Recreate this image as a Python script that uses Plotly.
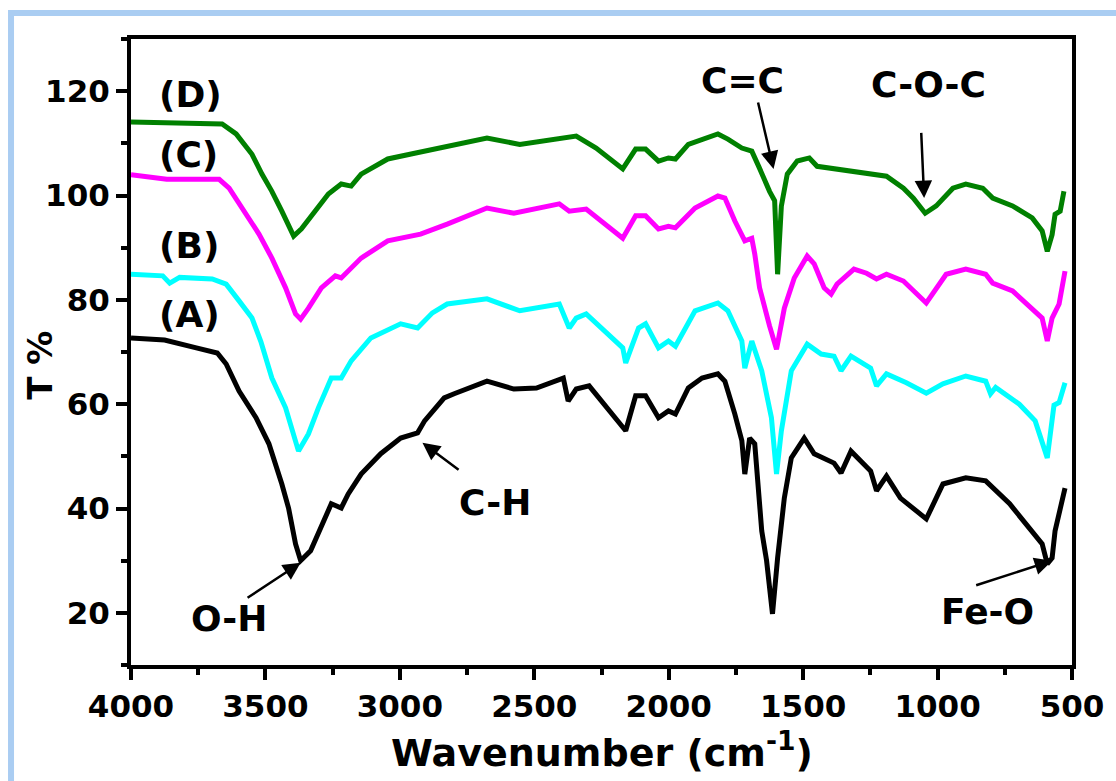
import plotly.graph_objects as go

# FTIR transmittance spectra (wavenumber in cm^-1, transmittance in %)
wn_a = [4000, 3875, 3757, 3679, 3646, 3598, 3535, 3487, 3439, 3414, 3388, 3369, 3332, 3292,
        3255, 3218, 3192, 3144, 3071, 2997, 2934, 2908, 2835, 2798, 2676, 2576, 2492, 2392,
        2374, 2344, 2296, 2160, 2123, 2086, 2038, 2001, 1975, 1927, 1876, 1817, 1791, 1754,
        1728, 1717, 1699, 1680, 1654, 1636, 1614, 1595, 1570, 1544, 1496, 1459, 1385, 1359,
        1322, 1249, 1227, 1190, 1138, 1042, 980, 895, 821, 732, 659, 611, 592, 574, 563, 526]
t_a = [72.7, 72.3, 70.8, 69.8, 67.7, 62.5, 57.4, 52.4, 44.7, 40.1, 33.2, 30.0, 31.9, 36.3,
       40.9, 40.1, 42.8, 46.6, 50.5, 53.5, 54.5, 56.8, 61.2, 62.0, 64.4, 62.9, 63.1, 65.0,
       60.6, 62.9, 63.5, 54.9, 61.6, 61.6, 57.4, 58.7, 58.1, 63.1, 65.0, 65.8, 64.4, 58.1,
       53.0, 46.6, 53.5, 52.4, 35.7, 30.0, 19.8, 30.5, 42.0, 49.7, 53.5, 50.5, 48.7, 46.8,
       51.0, 47.2, 43.4, 46.2, 42.0, 38.0, 44.7, 45.9, 45.3, 40.9, 36.3, 33.2, 29.4, 30.5, 35.7, 43.9]

wn_b = [4000, 3882, 3856, 3819, 3698, 3646, 3598, 3550, 3517, 3476, 3425, 3403, 3377, 3340,
        3303, 3255, 3218, 3181, 3108, 2997, 2934, 2879, 2824, 2676, 2554, 2407, 2370, 2344,
        2307, 2171, 2160, 2112, 2086, 2038, 2001, 1975, 1902, 1817, 1780, 1728, 1717, 1691,
        1654, 1618, 1599, 1581, 1544, 1485, 1433, 1385, 1359, 1322, 1249, 1227, 1190, 1116,
        1042, 980, 895, 821, 803, 784, 696, 637, 592, 567, 548, 526]
t_b = [84.9, 84.6, 83.2, 84.3, 84.0, 83.0, 79.8, 76.5, 72.0, 65.0, 59.3, 55.4, 51.0, 54.3,
       59.3, 65.0, 65.0, 68.3, 72.7, 75.4, 74.6, 77.5, 79.2, 80.2, 77.9, 79.2, 74.6, 76.5,
       77.3, 70.8, 67.9, 74.6, 75.4, 70.8, 72.1, 71.1, 77.9, 79.4, 77.9, 72.1, 66.9, 72.1,
       66.4, 57.4, 46.6, 54.9, 66.4, 71.5, 69.6, 69.2, 66.4, 69.2, 66.9, 63.5, 65.8, 64.1,
       62.1, 63.9, 65.4, 64.4, 62.0, 63.2, 60.0, 56.8, 49.7, 59.8, 60.3, 64.1]

wn_c = [4000, 3867, 3771, 3672, 3635, 3587, 3524, 3476, 3425, 3388, 3369, 3340, 3292, 3240,
        3218, 3144, 3045, 2923, 2824, 2676, 2576, 2407, 2370, 2307, 2171, 2123, 2086, 2038,
        2001, 1975, 1902, 1817, 1791, 1754, 1717, 1691, 1680, 1662, 1651, 1625, 1599, 1570,
        1533, 1485, 1459, 1422, 1396, 1374, 1311, 1264, 1227, 1190, 1127, 1042, 968, 895,
        821, 795, 721, 648, 611, 592, 574, 548, 526]
t_c = [104.0, 103.1, 103.1, 103.1, 101.4, 97.6, 92.6, 88.0, 82.3, 77.3, 76.3, 78.4, 82.3, 84.6,
       84.2, 88.0, 91.3, 92.6, 94.5, 97.6, 96.6, 98.4, 97.0, 97.4, 91.8, 96.1, 96.1, 93.6,
       94.1, 93.8, 97.6, 99.9, 99.5, 95.1, 91.3, 91.8, 88.8, 82.3, 80.0, 75.0, 70.5, 78.4,
       84.2, 88.4, 86.9, 82.3, 81.1, 83.0, 85.9, 85.1, 84.0, 84.9, 83.6, 79.4, 84.9, 85.9,
       84.9, 83.2, 81.7, 78.4, 76.5, 72.1, 76.5, 79.2, 85.5]

wn_d = [4000, 3757, 3661, 3609, 3550, 3513, 3476, 3439, 3414, 3395, 3366, 3314, 3266, 3218,
        3181, 3144, 3045, 2945, 2824, 2676, 2554, 2429, 2344, 2270, 2171, 2123, 2086, 2038,
        2001, 1975, 1927, 1817, 1780, 1728, 1691, 1662, 1643, 1625, 1606, 1595, 1581, 1559,
        1522, 1477, 1448, 1374, 1286, 1190, 1127, 1090, 1046, 1005, 943, 895, 832, 795, 721,
        648, 611, 592, 574, 563, 544, 530]
t_d = [114.1, 113.9, 113.7, 111.8, 107.9, 104.1, 100.8, 97.0, 94.5, 92.2, 93.6, 97.0, 100.3, 102.2,
       101.8, 104.1, 107.0, 108.1, 109.5, 111.0, 109.8, 110.8, 111.4, 109.1, 105.1, 108.9, 108.9, 106.6,
       107.2, 107.0, 109.8, 111.8, 110.8, 109.1, 108.5, 105.2, 102.8, 100.8, 99.0, 84.9, 98.0, 104.1,
       106.6, 107.2, 105.6, 105.1, 104.3, 103.7, 101.4, 99.5, 96.6, 98.0, 101.4, 102.2, 101.4, 99.5, 98.0,
       95.7, 93.2, 89.3, 92.5, 96.4, 97.0, 100.8]

series = [
    ("(A)", wn_a, t_a, "#000000"),
    ("(B)", wn_b, t_b, "#00FFFF"),
    ("(C)", wn_c, t_c, "#FF00FF"),
    ("(D)", wn_d, t_d, "#008000"),
]

# curve labels: (text, wavenumber, transmittance)
curve_labels = [("(D)", 3779, 119.4), ("(C)", 3786, 107.9), ("(B)", 3786, 90.5), ("(A)", 3783, 77.1)]

# band assignments: (text, label x, label y, arrow head x, head y, arrow tail x, tail y)
bands = [
    ("C=C", 1724, 122.1, 1610, 105.1, 1669, 118.1),
    ("C-O-C", 1035, 121.3, 1050, 99.5, 1061, 112.3),
    ("O-H", 3635, 18.9, 3369, 29.6, 3572, 22.7),
    ("C-H", 2647, 41.1, 2916, 52.6, 2776, 47.2),
    ("Fe-O", 814, 20.2, 574, 30.0, 862, 25.2),
]

FONT = "DejaVu Sans"

fig = go.Figure()
for name, wn, t, color in series:
    fig.add_trace(go.Scatter(x=wn, y=t, mode="lines", name=name,
                             line=dict(color=color, width=5), showlegend=False))

annotations = []
for text, x, y in curve_labels:
    annotations.append(dict(x=x, y=y, xref="x", yref="y", text=text, showarrow=False,
                            font=dict(family=FONT, size=36, color="black", weight="bold"),
                            xanchor="center", yanchor="middle"))
for text, lx, ly, hx, hy, tx, ty in bands:
    annotations.append(dict(x=lx, y=ly, xref="x", yref="y", text=text, showarrow=False,
                            font=dict(family=FONT, size=36, color="black", weight="bold"),
                            xanchor="center", yanchor="middle"))
    annotations.append(dict(x=hx, y=hy, xref="x", yref="y", ax=tx, ay=ty, axref="x", ayref="y",
                            text="", showarrow=True, arrowhead=2, arrowsize=1.4,
                            arrowwidth=2.5, arrowcolor="black"))

# axis titles
annotations.append(dict(x=0.5, y=-0.135, xref="paper", yref="paper",
                        text="Wavenumber (cm<sup>-1</sup>)", showarrow=False,
                        font=dict(family=FONT, size=38, color="black", weight="bold"),
                        xanchor="center", yanchor="middle"))
annotations.append(dict(x=-0.097, y=0.479, xref="paper", yref="paper", text="T %",
                        showarrow=False, textangle=-90,
                        font=dict(family=FONT, size=34, color="black", weight="bold"),
                        xanchor="center", yanchor="middle"))

# light blue frame around the figure
shapes = [dict(type="rect", xref="paper", yref="paper", x0=-0.1275, x1=1.06, y0=-0.25, y1=1.0415,
               line=dict(color="#aacdf2", width=6), fillcolor="rgba(0,0,0,0)", layer="below")]

axis_common = dict(showgrid=False, zeroline=False, showline=True, linecolor="black",
                   linewidth=4, mirror=True, ticks="outside", ticklen=11, tickwidth=4,
                   tickcolor="black",
                   tickfont=dict(family=FONT, size=31, color="black", weight="bold"))

fig.update_layout(
    width=1116, height=781,
    margin=dict(l=131, r=36, t=39, b=116),
    paper_bgcolor="white", plot_bgcolor="white",
    xaxis=dict(range=[4000, 500], tickmode="array", tickvals=[4000, 3500, 3000, 2500, 2000, 1500, 1000, 500],
               minor=dict(ticks="outside", ticklen=6, tickwidth=4, tickcolor="black", dtick=250),
               **axis_common),
    yaxis=dict(range=[10, 130], tickmode="array", tickvals=[20, 40, 60, 80, 100, 120],
               minor=dict(ticks="outside", ticklen=6, tickwidth=4, tickcolor="black", dtick=10),
               **axis_common),
    annotations=annotations,
    shapes=shapes,
)

fig.write_html("out.html")
